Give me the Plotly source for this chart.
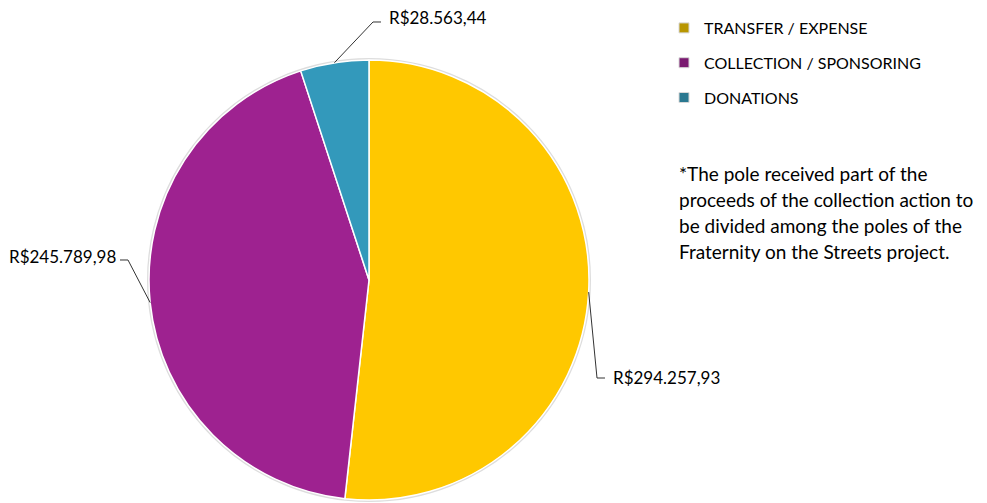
import math
import plotly.graph_objects as go

categories = ["TRANSFER / EXPENSE", "COLLECTION / SPONSORING", "DONATIONS"]
values = [294257.93, 245789.98, 28563.44]
value_labels = ["R$294.257,93", "R$245.789,98", "R$28.563,44"]
slice_colors = ["#FFC800", "#9E2290", "#3399BB"]
legend_colors = ["#B89600", "#7A1A70", "#2A7890"]
note_lines = [
    "*The pole received part of the",
    "proceeds of the collection action to",
    "be divided among the poles of the",
    "Fraternity on the Streets project.",
]

W, H = 987, 503
FONT = "Lato"
OFF = 8  # page body margin offset

# pie geometry (pixels in the screenshot)
cx, cy, r = 369, 280, 220


def px2paper(x, y):
    return (x - OFF) / W, 1 - (y - OFF) / H


dx0, dy1 = px2paper(cx - r, cy - r)
dx1, dy0 = px2paper(cx + r, cy + r)

fig = go.Figure()
fig.add_trace(go.Pie(
    labels=categories, values=values, sort=False, direction="clockwise",
    rotation=0, textinfo="none", hoverinfo="label+value",
    marker=dict(colors=slice_colors, line=dict(color="#FFFFFF", width=1.5)),
    domain=dict(x=[dx0, dx1], y=[dy0, dy1]), showlegend=False,
))

# legend entries
for name, col in zip(categories, legend_colors):
    fig.add_trace(go.Scatter(
        x=[None], y=[None], mode="markers", name=name, legendgroup=name,
        marker=dict(symbol="square", size=10, color=col,
                    line=dict(color="#D8D8D8", width=1)),
    ))

# label elbows and text anchors (layout positions, pixels)
label_layout = [
    dict(elbow=(597, 378), end=(605, 378), text=(611, 377), anchor="left"),
    dict(elbow=(128, 260), end=(120, 260), text=(118, 256), anchor="right"),
    dict(elbow=(373, 22), end=(381, 22), text=(387, 17), anchor="left"),
]

total = sum(values)
cum = 0.0
shapes = []
annotations = []
for v, lab, lay in zip(values, value_labels, label_layout):
    mid = (cum + v / 2) / total * 2 * math.pi
    cum += v
    ex = cx + r * math.sin(mid)
    ey = cy - r * math.cos(mid)
    pts = [(ex, ey), lay["elbow"], lay["end"]]
    path = "M " + " L ".join(
        f"{px2paper(x, y)[0]:.5f},{px2paper(x, y)[1]:.5f}" for x, y in pts)
    shapes.append(dict(type="path", path=path, xref="paper", yref="paper",
                       line=dict(color="#333333", width=1)))
    tx, ty = px2paper(*lay["text"])
    annotations.append(dict(
        x=tx, y=ty, xref="paper", yref="paper", text=lab, showarrow=False,
        xanchor=lay["anchor"], yanchor="middle",
        font=dict(family=FONT, size=17, color="#000000")))

# subtle outer shadow ring
x0, y1p = px2paper(cx - r - 1, cy - r - 1)
x1, y0p = px2paper(cx + r + 1, cy + r + 1)
shapes.insert(0, dict(type="circle", xref="paper", yref="paper",
                      x0=x0, x1=x1, y0=y0p, y1=y1p,
                      line=dict(color="#DDDDDD", width=2), layer="below"))

# note, one annotation per line for Calibri-like line spacing
for i, line in enumerate(note_lines):
    nx, ny = px2paper(677, 173 + 26 * i)
    annotations.append(dict(
        x=nx, y=ny, xref="paper", yref="paper", text=line,
        showarrow=False, xanchor="left", yanchor="middle", align="left",
        font=dict(family=FONT, size=19, color="#000000")))

lx, ly = px2paper(664, 11)
fig.update_layout(
    width=W, height=H, margin=dict(l=0, r=0, t=0, b=0),
    paper_bgcolor="#FFFFFF", plot_bgcolor="#FFFFFF",
    xaxis=dict(visible=False), yaxis=dict(visible=False),
    shapes=shapes, annotations=annotations,
    legend=dict(x=lx, y=ly, xanchor="left", yanchor="top",
                font=dict(family=FONT, size=16, color="#000000"),
                tracegroupgap=11, bgcolor="rgba(0,0,0,0)"),
)

fig.write_html("out.html")
